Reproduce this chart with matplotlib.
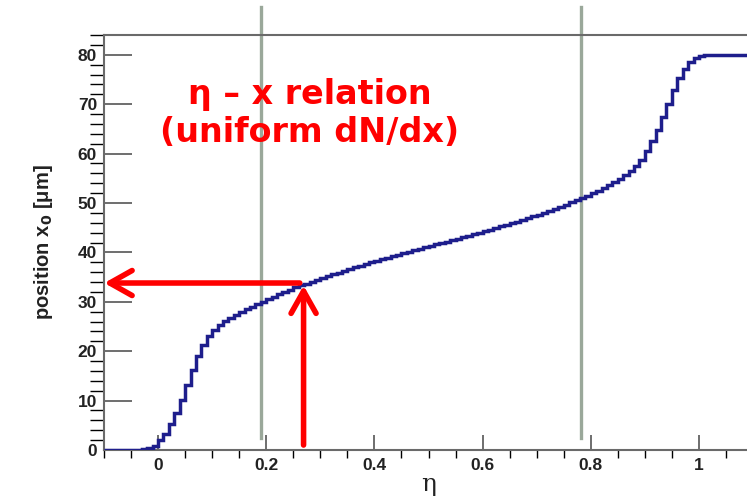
#!/usr/bin/env python
"""eta - x relation: step histogram of position x0 vs eta."""

import numpy as np
import matplotlib
matplotlib.use("Agg")
import matplotlib.pyplot as plt
from matplotlib.ticker import MultipleLocator

#-------------
# data
#-------------
eta_lo = -0.10
bin_w = 0.01
x0 = [0.0, 0.0, 0.0, 0.0, 0.0, 0.0, 0.1, 0.2, 0.4, 0.8,           # -0.10 .. -0.01
      2.0, 3.3, 5.2, 7.5, 10.2, 13.2, 16.2, 19.0, 21.3, 23.0,      # 0.00 .. 0.09
      24.3, 25.3, 26.1, 26.8, 27.4, 28.0, 28.5, 29.0, 29.5, 30.0,  # 0.10 .. 0.19
      30.5, 31.0, 31.5, 32.0, 32.4, 32.9, 33.3, 33.7, 34.1, 34.5,  # 0.20 .. 0.29
      34.9, 35.2, 35.6, 35.9, 36.3, 36.6, 37.0, 37.3, 37.6, 38.0,  # 0.30 .. 0.39
      38.3, 38.6, 38.9, 39.2, 39.5, 39.8, 40.1, 40.4, 40.7, 41.0,  # 0.40 .. 0.49
      41.3, 41.6, 41.9, 42.2, 42.5, 42.8, 43.1, 43.4, 43.7, 44.0,  # 0.50 .. 0.59
      44.3, 44.6, 44.9, 45.3, 45.6, 45.9, 46.2, 46.6, 46.9, 47.3,  # 0.60 .. 0.69
      47.6, 48.0, 48.4, 48.8, 49.2, 49.6, 50.1, 50.6, 51.1, 51.5,  # 0.70 .. 0.79
      52.0, 52.5, 53.0, 53.6, 54.2, 54.9, 55.7, 56.5, 57.5, 58.8,  # 0.80 .. 0.89
      60.5, 62.5, 64.8, 67.4, 70.1, 72.8, 75.3, 77.2, 78.5, 79.3,  # 0.90 .. 0.99
      79.7, 79.9, 80.0, 80.0, 80.0, 80.0, 80.0, 80.0, 80.0, 80.0]  # 1.00 .. 1.09

vlines_eta = [0.19, 0.782]
arrow_eta = 0.269
arrow_x0 = 33.8

title_lines = ["\u03b7 \u2013 x relation", "(uniform dN/dx)"]

#-------------
# figure
#-------------
plt.rcParams['font.family'] = ['Liberation Sans', 'DejaVu Sans']

fig = plt.figure(figsize=(7.47, 4.99), dpi=100)
ax = fig.add_axes([104/747, 49/499, 649/747, 415/499])

edges = eta_lo + bin_w*np.arange(len(x0) + 1)
ax.stairs(x0, edges, color='#1e1e8c', lw=2.5, zorder=3)

for v in vlines_eta:
    ax.plot([v, v], [2.4, 89.6], color='#9aa89a', lw=2.4, clip_on=False, zorder=2)

ax.set_xlim(-0.1, 1.1)
ax.set_ylim(0, 84)

ax.xaxis.set_major_locator(MultipleLocator(0.2))
ax.xaxis.set_minor_locator(MultipleLocator(0.05))
ax.yaxis.set_major_locator(MultipleLocator(10))
ax.yaxis.set_minor_locator(MultipleLocator(2))
ax.set_xticks([0, 0.2, 0.4, 0.6, 0.8, 1.0])
ax.set_xticklabels(['0', '0.2', '0.4', '0.6', '0.8', '1'])
ax.tick_params(axis='both', direction='in', colors='#555555',
               labelcolor='#222222', labelsize=12.5)
ax.tick_params(axis='y', which='major', length=20, width=1.2, pad=5)
ax.tick_params(axis='y', which='minor', length=10, width=1.0)
ax.tick_params(axis='x', which='major', length=11, width=1.2, pad=6)
ax.tick_params(axis='x', which='minor', length=6, width=1.0)
for lab in ax.get_xticklabels() + ax.get_yticklabels():
    lab.set_fontweight('bold')

for s in ax.spines.values():
    s.set_color('#6a6a6a')
    s.set_linewidth(1.5)

ax.set_ylabel('position x$_\\mathbf{0}$ [\u03bcm]', fontsize=14.5, fontweight='bold',
              color='#222222', labelpad=16)
ax.set_xlabel('\u03b7', family='DejaVu Serif', fontsize=18, color='#222222', labelpad=0)

# arrows
ax.annotate('', xy=(-0.0996, arrow_x0), xytext=(0.262, arrow_x0),
            arrowprops=dict(arrowstyle='->,head_length=0.8,head_width=0.45',
                            color='#ff0000', lw=4, mutation_scale=20,
                            shrinkA=0, shrinkB=0), annotation_clip=False, zorder=4)
ax.annotate('', xy=(arrow_eta, 33.3), xytext=(arrow_eta, 1.0),
            arrowprops=dict(arrowstyle='->,head_length=0.8,head_width=0.45',
                            color='#ff0000', lw=4, mutation_scale=20,
                            shrinkA=0, shrinkB=0), annotation_clip=False, zorder=4)

# title text
ax.text(0.28, 72.0, title_lines[0], color='#ff0000', fontsize=24, fontweight='bold',
        ha='center', va='center', family='DejaVu Sans', zorder=5)
ax.text(0.28, 64.3, title_lines[1], color='#ff0000', fontsize=24, fontweight='bold',
        ha='center', va='center', family='DejaVu Sans', zorder=5)

fig.savefig('out.png', dpi=100)
